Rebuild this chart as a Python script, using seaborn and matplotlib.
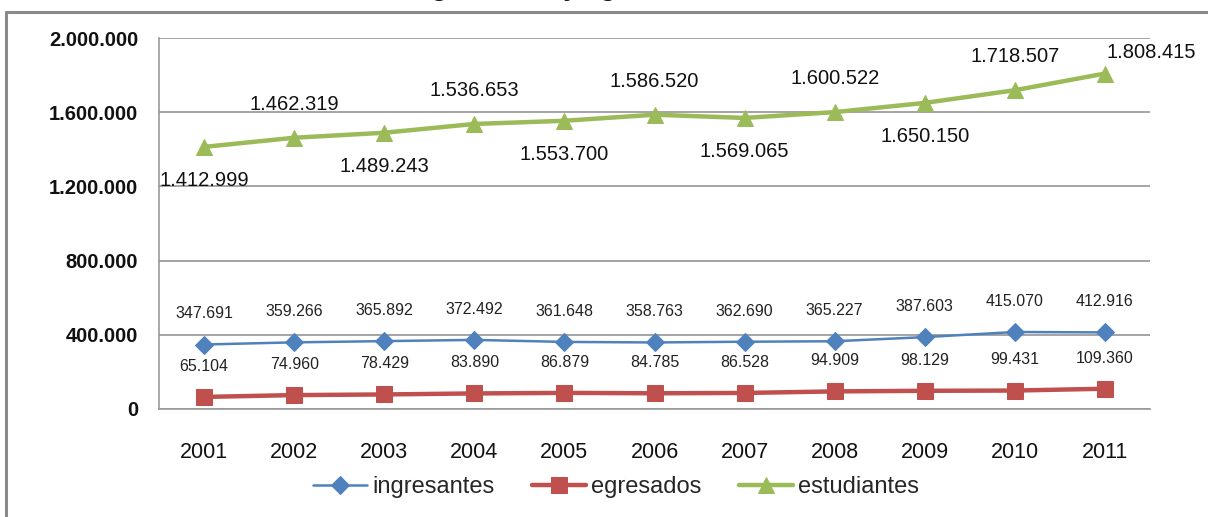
import numpy as np
import pandas as pd
import matplotlib
matplotlib.use('Agg')
import matplotlib.pyplot as plt
import matplotlib.ticker as mticker
from matplotlib.lines import Line2D
import seaborn as sns

# data
years = ['2001', '2002', '2003', '2004', '2005', '2006', '2007', '2008', '2009', '2010', '2011']
ingresantes = [347691, 359266, 365892, 372492, 361648, 358763, 362690, 365227, 387603, 415070, 412916]
egresados = [65104, 74960, 78429, 83890, 86879, 84785, 86528, 94909, 98129, 99431, 109360]
estudiantes = [1412999, 1462319, 1489243, 1536653, 1553700, 1586520, 1569065, 1600522, 1650150, 1718507, 1808415]

sns.set_style('white')
plt.rcParams['font.family'] = ['Liberation Sans', 'DejaVu Sans']

def miles(v, pos=None):
    return f'{int(round(v)):,}'.replace(',', '.')

fig = plt.figure(figsize=(12.08, 5.17), dpi=100)
ax = fig.add_axes([159/1208, 1-409/517, (1150-159)/1208, (409-38)/517])

x = np.arange(len(years))
sns.lineplot(x=x, y=ingresantes, ax=ax, color='#4F81BD', lw=1.8, marker='D', markersize=9,
             markeredgecolor='#4F81BD', label='ingresantes')
sns.lineplot(x=x, y=egresados, ax=ax, color='#C0504D', lw=3.2, marker='s', markersize=11,
             markeredgecolor='#C0504D', label='egresados')
sns.lineplot(x=x, y=estudiantes, ax=ax, color='#9BBB59', lw=3.2, marker='^', markersize=11,
             markeredgecolor='#9BBB59', label='estudiantes')

# data labels
for i in range(len(years)):
    ax.annotate(miles(ingresantes[i]), (x[i], ingresantes[i]), xytext=(0, 22), textcoords='offset points',
                ha='center', va='center', fontsize=11.5, color='#222222')
    ax.annotate(miles(egresados[i]), (x[i], egresados[i]), xytext=(0, 22), textcoords='offset points',
                ha='center', va='center', fontsize=11.5, color='#222222')
    if i == len(years) - 1:
        off = (33, 15)
    elif i % 2 == 1:
        off = (0, 24)
    else:
        off = (0, -24)
    ax.annotate(miles(estudiantes[i]), (x[i], estudiantes[i]), xytext=off, textcoords='offset points',
                ha='center', va='center', fontsize=14.5, color='#111111')

ax.set_xlim(-0.5, len(years) - 0.5)
ax.set_ylim(0, 2000000)
ax.set_yticks(np.arange(0, 2000001, 400000))
ax.yaxis.set_major_formatter(mticker.FuncFormatter(miles))
ax.set_xticks(x)
ax.set_xticklabels(years)
ax.set_xticks(np.arange(-0.5, len(years), 1), minor=True)
ax.tick_params(axis='x', which='major', length=0, pad=24, labelsize=15.5, labelcolor='#111111')
ax.tick_params(axis='x', which='minor', length=6, color='#999999', width=1.2)
ax.tick_params(axis='y', length=5, color='#999999', width=1.2, pad=10, labelsize=14.5, labelcolor='#111111')
for lab in ax.get_yticklabels():
    lab.set_fontweight('bold')

ax.grid(axis='y', color='#8c8c8c', lw=1.1)
ax.set_axisbelow(True)
for s in ['top', 'right']:
    ax.spines[s].set_visible(False)
ax.spines['left'].set_color('#999999')
ax.spines['bottom'].set_color('#999999')
ax.spines['left'].set_linewidth(1.2)
ax.spines['bottom'].set_linewidth(1.2)

ax.legend(loc='center', bbox_to_anchor=(616/1208, 1-487/517), bbox_transform=fig.transFigure,
          ncol=3, frameon=False, fontsize=17, handlelength=2.3, handletextpad=0.2, columnspacing=1.6)

# outer frame of the original chart
fig.add_artist(Line2D([6/1208, 6/1208], [0, 1-12/517], color='#8a8a8a', lw=2.2))
fig.add_artist(Line2D([6/1208, 1], [1-12/517, 1-12/517], color='#8a8a8a', lw=2.2))

# title, cut off at the top of the picture: only descenders show
fig.text(393/1208, 1 + 4/517, 'Evolución de estudiantes', ha='right', va='baseline',
         fontsize=19, fontweight='bold', color='#111111')
fig.text(393/1208, 1 + 4/517, ', ingresantes y egresados', ha='left', va='baseline',
         fontsize=19, fontweight='bold', color='#111111')

fig.savefig('out.png', dpi=100)
